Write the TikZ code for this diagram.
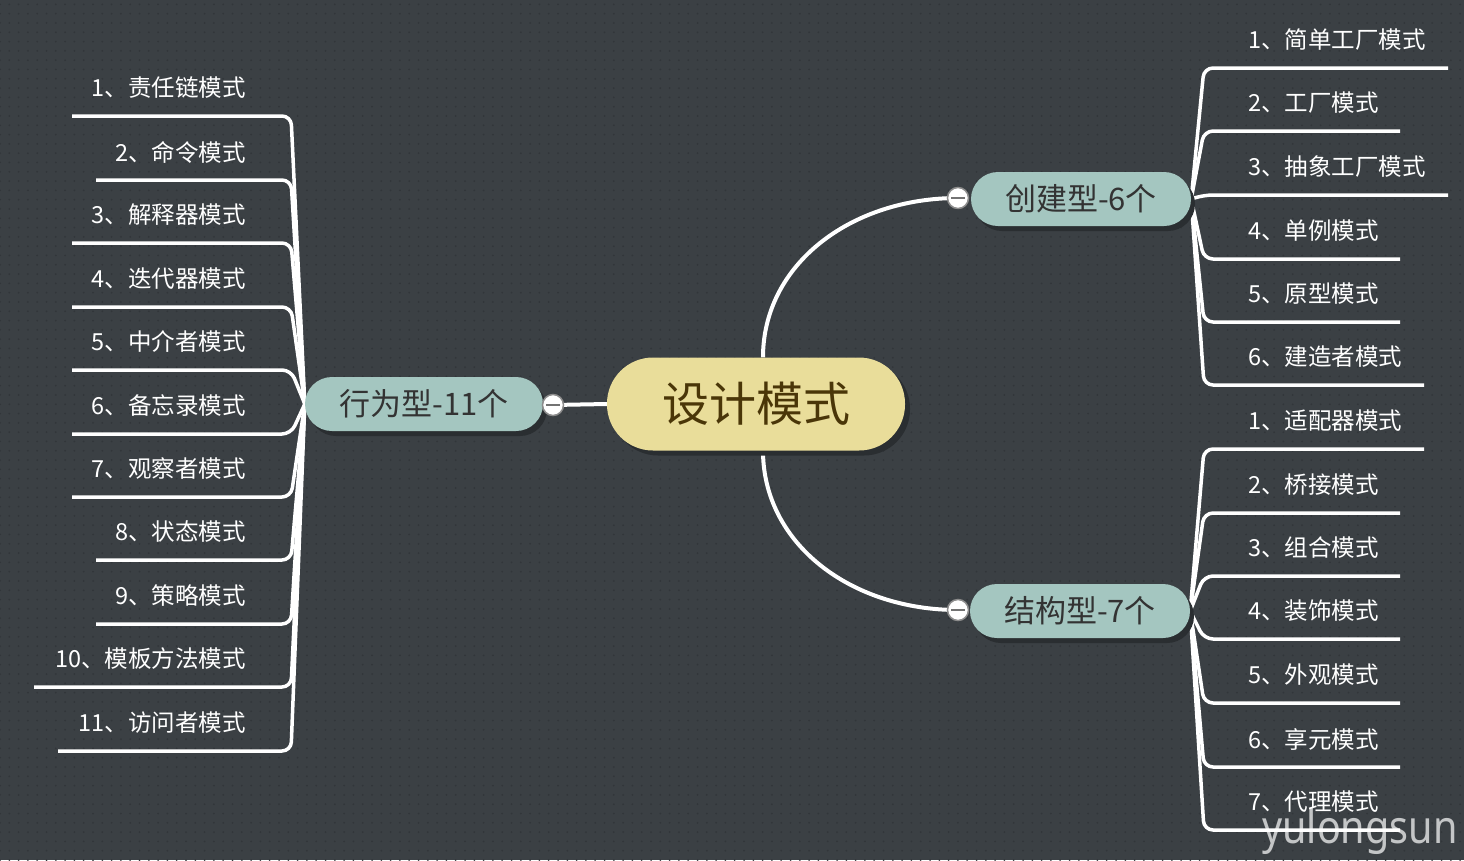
\documentclass[tikz,border=0pt]{standalone}
\usepackage{fontspec}
\newfontfamily\cjk{Noto Sans CJK SC}
\newfontfamily\wmfont{Noto Sans}
\usetikzlibrary{patterns.meta,shadows}
\pgfdeclarelayer{back}
\pgfdeclarelayer{lines}
\pgfsetlayers{back,lines,main}
\definecolor{bgc}{HTML}{3B4044}
\definecolor{dotc}{HTML}{32363A}
\definecolor{khaki}{HTML}{E9DD9A}
\definecolor{teal}{HTML}{A4C6C0}
\definecolor{brown}{HTML}{4A3608}
\definecolor{shadowc}{HTML}{2A2E31}
\tikzset{
  conn/.style={draw=white, line width=3.5pt, rounded corners=9pt},
  trunk/.style={draw=white, line width=4pt},
  rootbox/.style={fill=khaki, rounded corners=46pt, minimum width=298pt, minimum height=93pt, inner sep=0,
    text=brown, font=\cjk\fontsize{47}{50}\selectfont,
    drop shadow={shadow xshift=5pt, shadow yshift=-5pt, fill=shadowc, opacity=1}},
  catbox/.style={fill=teal, rounded corners=27pt, minimum height=54pt, inner sep=0,
    text=black!80, font=\cjk\fontsize{31}{34}\selectfont,
    drop shadow={shadow xshift=4pt, shadow yshift=-5pt, fill=shadowc, opacity=1}},
  itemr/.style={anchor=west, inner sep=0, text=white, font=\cjk\fontsize{23.5}{26}\selectfont},
  iteml/.style={anchor=east, inner sep=0, text=white, font=\cjk\fontsize{23.5}{26}\selectfont},
  toggle/.style={circle, fill=white, draw=black!45, line width=1.5pt, minimum size=21pt, inner sep=0,
    path picture={\draw[black!55, line width=1.5pt] ([xshift=-7pt]path picture bounding box.center) -- ([xshift=7pt]path picture bounding box.center);}}
}
\begin{document}
\begin{tikzpicture}[x=1pt,y=-1pt]
\begin{pgfonlayer}{back}
\fill[bgc] (0,0) rectangle (1464,860);
\fill[pattern={Dots[distance=9.3pt, radius=1pt]}, pattern color=dotc] (0,0) rectangle (1464,860);
\end{pgfonlayer}
\useasboundingbox (0,0) rectangle (1464,860);

% nodes
\node[rootbox] (root) at (756,404) {设计模式};
\node[catbox, minimum width=220pt] (cre) at (1081,199) {创建型-6个};
\node[catbox, minimum width=220pt] (str) at (1080,611) {结构型-7个};
\node[catbox, minimum width=238pt] (beh) at (424,404) {行为型-11个};

\node[toggle] (tc) at (958,198) {};
\node[toggle] (ts) at (958,610) {};
\node[toggle] (tb) at (553,405) {};

\begin{pgfonlayer}{lines}
% trunks
\draw[trunk] (root.north) ++(7,0) .. controls (763,265) and (850,198) .. (tc.center);
\draw[trunk] (root.south) ++(7,0) .. controls (763,543) and (850,610) .. (ts.center);
\draw[trunk] (root.west) -- (tb.center);

% creational items
\foreach \n/\t/\y/\xe in {c1/1、简单工厂模式/68/1448, c2/2、工厂模式/131/1400, c3/3、抽象工厂模式/195/1448,
                         c4/4、单例模式/259/1400, c5/5、原型模式/322/1400, c6/6、建造者模式/385/1424}{
  \coordinate (\n e) at (\xe,\y);
  \draw[conn] (cre.east) -- (1204,\y) -- (\n e);
}
% structural items
\foreach \n/\t/\y/\xe in {s1/1、适配器模式/449/1424, s2/2、桥接模式/513/1400, s3/3、组合模式/576/1400,
                         s4/4、装饰模式/639/1400, s5/5、外观模式/703/1400, s6/6、享元模式/767/1400,
                         s7/7、代理模式/830/1400}{
  \coordinate (\n e) at (\xe,\y);
  \draw[conn] (str.east) -- (1204,\y) -- (\n e);
}
% behavioural items
\foreach \n/\t/\y/\xs in {b1/1、责任链模式/116/72, b2/2、命令模式/180/96, b3/3、解释器模式/243/72,
                         b4/4、迭代器模式/307/72, b5/5、中介者模式/370/72, b6/6、备忘录模式/434/72,
                         b7/7、观察者模式/497/72, b8/8、状态模式/560/96, b9/9、策略模式/624/96,
                         b10/10、模板方法模式/687/34, b11/11、访问者模式/751/58}{
  \coordinate (\n s) at (\xs,\y);
  \draw[conn] (beh.west) -- (291,\y) -- (\n s);
}
\end{pgfonlayer}

% item texts
\foreach \n/\t/\y in {c1/1、简单工厂模式/68, c2/2、工厂模式/131, c3/3、抽象工厂模式/195,
                      c4/4、单例模式/259, c5/5、原型模式/322, c6/6、建造者模式/385,
                      s1/1、适配器模式/449, s2/2、桥接模式/513, s3/3、组合模式/576,
                      s4/4、装饰模式/639, s5/5、外观模式/703, s6/6、享元模式/767, s7/7、代理模式/830}{
  \node[itemr] (\n t) at (1248,\y-28) {\t};
}
\foreach \n/\t/\y in {b1/1、责任链模式/116, b2/2、命令模式/180, b3/3、解释器模式/243,
                      b4/4、迭代器模式/307, b5/5、中介者模式/370, b6/6、备忘录模式/434,
                      b7/7、观察者模式/497, b8/8、状态模式/560, b9/9、策略模式/624,
                      b10/10、模板方法模式/687, b11/11、访问者模式/751}{
  \node[iteml] (\n t) at (246,\y-28) {\t};
}

% watermark
\node[anchor=base west, inner sep=0, text=white, opacity=0.7, font=\wmfont\fontsize{46}{46}\selectfont] (wm) at (1262,843) {\scalebox{0.86}[1]{yulongsun}};
\end{tikzpicture}
\end{document}
